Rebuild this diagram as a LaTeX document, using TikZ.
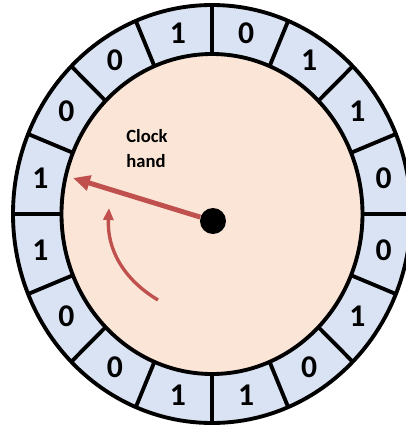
\documentclass[tikz,border=0pt]{standalone}
\usepackage{fontspec}
\setmainfont{Carlito}
\usetikzlibrary{arrows.meta}
\definecolor{ringblue}{HTML}{DAE3F3}
\definecolor{facepeach}{HTML}{FBE5D6}
\definecolor{handred}{HTML}{C0504D}

\begin{document}
\begin{tikzpicture}[>=Triangle, font=\bfseries, line join=round]
  \useasboundingbox (-4.24,-4.28) rectangle (3.88,4.28);
  \clip (-4.24,-4.28) rectangle (3.88,4.28);
  % ── Ring of bit cells and the clock face ──────────────────────
  \fill[ringblue] (0,0) ellipse (3.98 and 4.18);
  \fill[facepeach] (0,0) ellipse (3.01 and 3.2);
  \draw[line width=2.2pt] (0,0) ellipse (3.98 and 4.18);
  \draw[line width=2.2pt] (0,0) ellipse (3.01 and 3.2);
  % ── Cell dividers, every 22.5 degrees ─────────────────────────
  \foreach \k in {0,...,15}
    \draw[line width=2.2pt] ({90-22.5*\k}:3.01cm and 3.2cm) -- ({90-22.5*\k}:3.98cm and 4.18cm);
  % ── Bits, clockwise from the top ──────────────────────────────
  \foreach \bit [count=\k from 0] in {0,1,1,0,0,1,0,1,1,0,0,1,1,0,0,1}
    \node[font=\fontsize{18}{18}\selectfont\bfseries] (b\k) at ({78.75-22.5*\k}:3.5cm and 3.69cm) {\bit};
  % ── Clock hand ────────────────────────────────────────────────
  \node[circle, fill=black, inner sep=0pt, minimum size=0.52cm] (pivot) at (0.02,-0.14) {};
  \coordinate (handtip) at (-2.78,0.72);
  \draw[handred, line width=2.8pt, -{Triangle[length=0.34cm,width=0.3cm]}] (pivot) -- (handtip);
  \node[align=left, anchor=north west, inner sep=0pt,
        font=\fontsize{10.6}{14.2}\selectfont\bfseries] (handlabel) at (-1.72,1.70) {Clock\\hand};
  % ── Sweep direction ───────────────────────────────────────────
  \coordinate (sweepstart) at (-1.08,-1.72);
  \coordinate (sweepend) at (-2.06,0.12);
  \draw[handred, line width=1.9pt, -{Triangle[length=0.24cm,width=0.2cm]}]
    (sweepstart) to[bend left=31] (sweepend);
\end{tikzpicture}
\end{document}
